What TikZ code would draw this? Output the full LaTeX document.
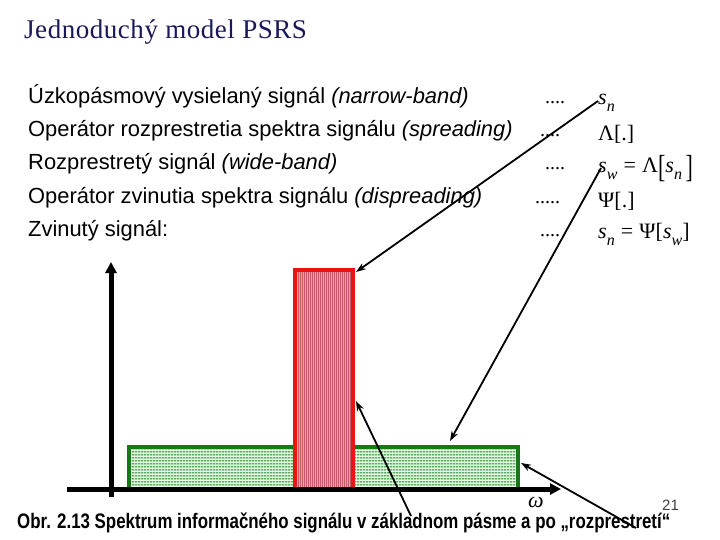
\documentclass[tikz,border=0pt]{standalone}
\usepackage{fontspec}
\setmainfont{Liberation Sans}
\newfontfamily\serifT{Liberation Serif}
\newfontfamily\titlefont[LetterSpace=2]{Liberation Serif}
\usetikzlibrary{arrows.meta,patterns.meta}
\definecolor{titleblue}{RGB}{25,25,90}
\definecolor{boxred}{RGB}{235,20,20}
\definecolor{stripered}{RGB}{170,0,25}
\definecolor{boxgreen}{RGB}{20,120,20}
\definecolor{stripegreen}{RGB}{30,130,30}

\newcommand{\mysub}[1]{\raisebox{-0.28em}{\fontsize{16bp}{18bp}\selectfont\itshape #1}}
\newcommand{\bigbr}[1]{\raisebox{-0.2em}{\scalebox{1}[1.45]{#1}}}
\newcommand{\eqsp}{\hspace{0.28em}=\hspace{0.28em}}

\tikzdeclarepattern{
  name=vstripes,
  type=uncolored,
  bounding box={(0bp,0bp) and (2.4bp,2.4bp)},
  tile size={(2.4bp,2.4bp)},
  code={\draw[line width=1.2bp] (1.2bp,0bp) -- (1.2bp,2.4bp);}
}
\tikzdeclarepattern{
  name=hstripes,
  type=uncolored,
  bounding box={(0bp,0bp) and (3bp,3bp)},
  tile size={(3bp,3bp)},
  code={\draw[line width=1.5bp] (0bp,1.5bp) -- (3bp,1.5bp);}
}

\tikzset{
  bodytext/.style={anchor=base west, inner sep=0pt, font=\fontsize{21.9bp}{26bp}\selectfont},
  dotstext/.style={anchor=base west, inner sep=0pt, font=\serifT\fontsize{20bp}{24bp}\selectfont},
  mathtext/.style={anchor=base west, inner sep=0pt, font=\serifT\fontsize{22bp}{26bp}\selectfont},
  axisline/.style={line width=5bp, -{Triangle[length=11bp,width=11bp]}},
  pointer/.style={line width=1.8bp, -{Stealth[length=10bp,width=7bp]}},
}

\begin{document}
\begin{tikzpicture}[x=1bp,y=-1bp]
\useasboundingbox (0,0) rectangle (720,540);

% title
\node[anchor=base west, inner sep=0pt, text=titleblue,
      font=\titlefont\fontsize{27bp}{32bp}\selectfont] (title) at (24,39) {Jednoduchý model PSRS};

% text lines
\node[bodytext] (l1) at (28,104) {Úzkopásmový vysielaný signál \textit{(narrow-band)}};
\node[bodytext] (l2) at (28,137) {Operátor rozprestretia spektra signálu \textit{(spreading)}};
\node[bodytext] (l3) at (28,170) {Rozprestretý signál \textit{(wide-band)}};
\node[bodytext] (l4) at (28,204) {Operátor zvinutia spektra signálu \textit{(dispreading)}};
\node[bodytext] (l5) at (28,237) {Zvinutý signál:};

% dots
\node[dotstext] (d1) at (545,104) {....};
\node[dotstext] (d2) at (540,137) {....};
\node[dotstext] (d3) at (545,170) {....};
\node[dotstext] (d4) at (535,204) {.....};
\node[dotstext] (d5) at (540,237) {....};

% symbols
\node[mathtext] (m1) at (598,105) {\textit{s}\mysub{n}};
\node[mathtext] (m2) at (598,141) {Λ[.]};
\node[mathtext] (m3) at (598,173) {\textit{s}\mysub{w}\eqsp Λ\bigbr{[}\textit{s}\mysub{n}\,\bigbr{]}};
\node[mathtext] (m4) at (598,208) {Ψ[.]};
\node[mathtext] (m5) at (598,239) {\textit{s}\mysub{n}\eqsp Ψ[\textit{s}\mysub{w}]};

% spectra
\node[draw=boxgreen, line width=3.5bp, inner sep=0pt, outer sep=0pt,
      minimum width=389bp, minimum height=42bp, anchor=south west,
      preaction={fill=green!10}, pattern={hstripes}, pattern color=stripegreen]
      (wide) at (129,489) {};
\node[draw=boxred, line width=4bp, inner sep=0pt, outer sep=0pt,
      minimum width=58bp, minimum height=219bp, anchor=south west,
      preaction={fill=white}, pattern={vstripes}, pattern color=stripered]
      (narrow) at (295,489) {};

% axes
\coordinate (o1) at (67,489);
\coordinate (xend) at (561,489);
\coordinate (o2) at (111,497);
\coordinate (yend) at (111,262);
\draw[axisline] (o1) -- (xend);
\draw[axisline] (o2) -- (yend);
\node[mathtext, anchor=center] (om) at (536,502) {\textit{ω}};

% pointers
\coordinate (t1) at (598,101);
\coordinate (h1) at (356,272);
\coordinate (t2) at (601,168);
\coordinate (h2) at (450,441);
\coordinate (t3) at (411,516);
\coordinate (h3) at (356,401);
\coordinate (t4) at (636,528);
\coordinate (h4) at (521,463);
\draw[pointer] (t1) -- (h1);
\draw[pointer] (t2) -- (h2);
\draw[pointer] (t3) -- (h3);
\draw[pointer] (t4) -- (h4);

% page number and caption
\node[anchor=base west, inner sep=0pt, text=black!75, font=\fontsize{15bp}{18bp}\selectfont] (pg) at (662,510) {21};
\node[anchor=base west, inner sep=0pt, font=\bfseries\fontsize{21bp}{24bp}\selectfont] (cap) at (17,528)
  {\resizebox{653bp}{\height}{Obr. 2.13 Spektrum informačného signálu v základnom pásme a po „rozprestretí“}};
\end{tikzpicture}
\end{document}
